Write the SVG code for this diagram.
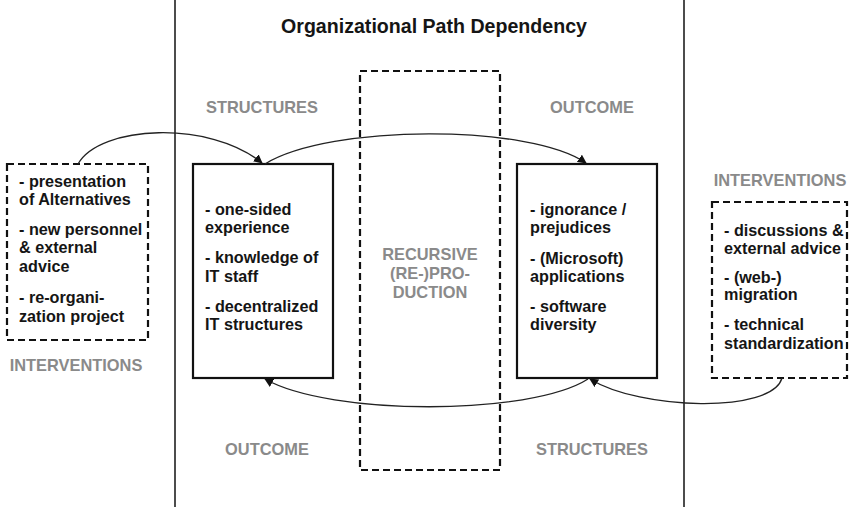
<svg xmlns="http://www.w3.org/2000/svg" width="850" height="507" viewBox="0 0 850 507">
<style>
.bg{fill:#fff}
.vline{stroke:#111;stroke-width:1.5;fill:none}
.solid{fill:#fff;stroke:#111;stroke-width:2.2}
.dash{fill:none;stroke:#111;stroke-width:2.2;stroke-dasharray:7,4}
.t{font-family:"Liberation Sans",Arial,sans-serif;font-weight:bold;font-size:16.2px;fill:#151515}
.g{font-family:"Liberation Sans",Arial,sans-serif;font-weight:bold;font-size:16.4px;fill:#8a8a8a}
.title{font-family:"Liberation Sans",Arial,sans-serif;font-weight:bold;font-size:19.6px;fill:#151515}
.conn{fill:none;stroke:#222;stroke-width:1.3}
</style>
<defs>
<marker id="arr" viewBox="0 0 10 10" refX="9" refY="5" markerWidth="9" markerHeight="9" markerUnits="userSpaceOnUse" orient="auto">
<path d="M0,0 L10,5 L0,10 z" fill="#111"/>
</marker>
</defs>
<rect class="bg" x="0" y="0" width="850" height="507"/>
<g id="frame">
<line class="vline" x1="175" y1="0" x2="175" y2="507"/>
<line class="vline" x1="684" y1="0" x2="684" y2="507"/>
<text class="title" x="434" y="33" text-anchor="middle">Organizational Path Dependency</text>
<text class="g" x="262" y="113" text-anchor="middle">STRUCTURES</text>
<text class="g" x="592" y="113" text-anchor="middle">OUTCOME</text>
<text class="g" x="267" y="455" text-anchor="middle">OUTCOME</text>
<text class="g" x="592" y="455" text-anchor="middle">STRUCTURES</text>
<text class="g" x="76" y="371" text-anchor="middle">INTERVENTIONS</text>
<text class="g" x="780" y="186" text-anchor="middle">INTERVENTIONS</text>
</g>
<g id="recursive">
<rect class="dash" x="360" y="71" width="140" height="399"/>
<text class="g" x="430" y="260" text-anchor="middle">RECURSIVE</text>
<text class="g" x="430" y="279" text-anchor="middle">(RE-)PRO-</text>
<text class="g" x="430" y="298" text-anchor="middle">DUCTION</text>
</g>
<g id="left-interventions">
<rect class="dash" x="7" y="164" width="141" height="176"/>
<text class="t" x="19" y="187">- presentation</text>
<text class="t" x="19" y="205">of Alternatives</text>
<text class="t" x="19" y="235">- new personnel</text>
<text class="t" x="19" y="253">&amp; external</text>
<text class="t" x="19" y="272">advice</text>
<text class="t" x="19" y="303">- re-organi-</text>
<text class="t" x="19" y="322">zation project</text>
</g>
<g id="left-box">
<rect class="solid" x="193" y="164" width="140" height="214"/>
<text class="t" x="205" y="215">- one-sided</text>
<text class="t" x="205" y="233">experience</text>
<text class="t" x="205" y="263">- knowledge of</text>
<text class="t" x="205" y="282">IT staff</text>
<text class="t" x="205" y="312">- decentralized</text>
<text class="t" x="205" y="330">IT structures</text>
</g>
<g id="right-box">
<rect class="solid" x="517" y="164" width="140" height="214"/>
<text class="t" x="530" y="215">- ignorance /</text>
<text class="t" x="530" y="233">prejudices</text>
<text class="t" x="530" y="264">- (Microsoft)</text>
<text class="t" x="530" y="282">applications</text>
<text class="t" x="530" y="312">- software</text>
<text class="t" x="530" y="330">diversity</text>
</g>
<g id="right-interventions">
<rect class="dash" x="712" y="202" width="135" height="176"/>
<text class="t" x="724" y="236">- discussions &amp;</text>
<text class="t" x="724" y="254">external advice</text>
<text class="t" x="724" y="283">- (web-)</text>
<text class="t" x="724" y="300">migration</text>
<text class="t" x="724" y="330">- technical</text>
<text class="t" x="724" y="349">standardization</text>
</g>
<g id="connectors">
<path class="conn" d="M78,164 C100,125 210,120 262,163" marker-end="url(#arr)"/>
<path class="conn" d="M265,164 C330,124 530,124 586,163" marker-end="url(#arr)"/>
<path class="conn" d="M588,379 C530,416 330,416 265,379" marker-end="url(#arr)"/>
<path class="conn" d="M782,378 C772,414 640,410 590,379" marker-end="url(#arr)"/>
</g>
</svg>
